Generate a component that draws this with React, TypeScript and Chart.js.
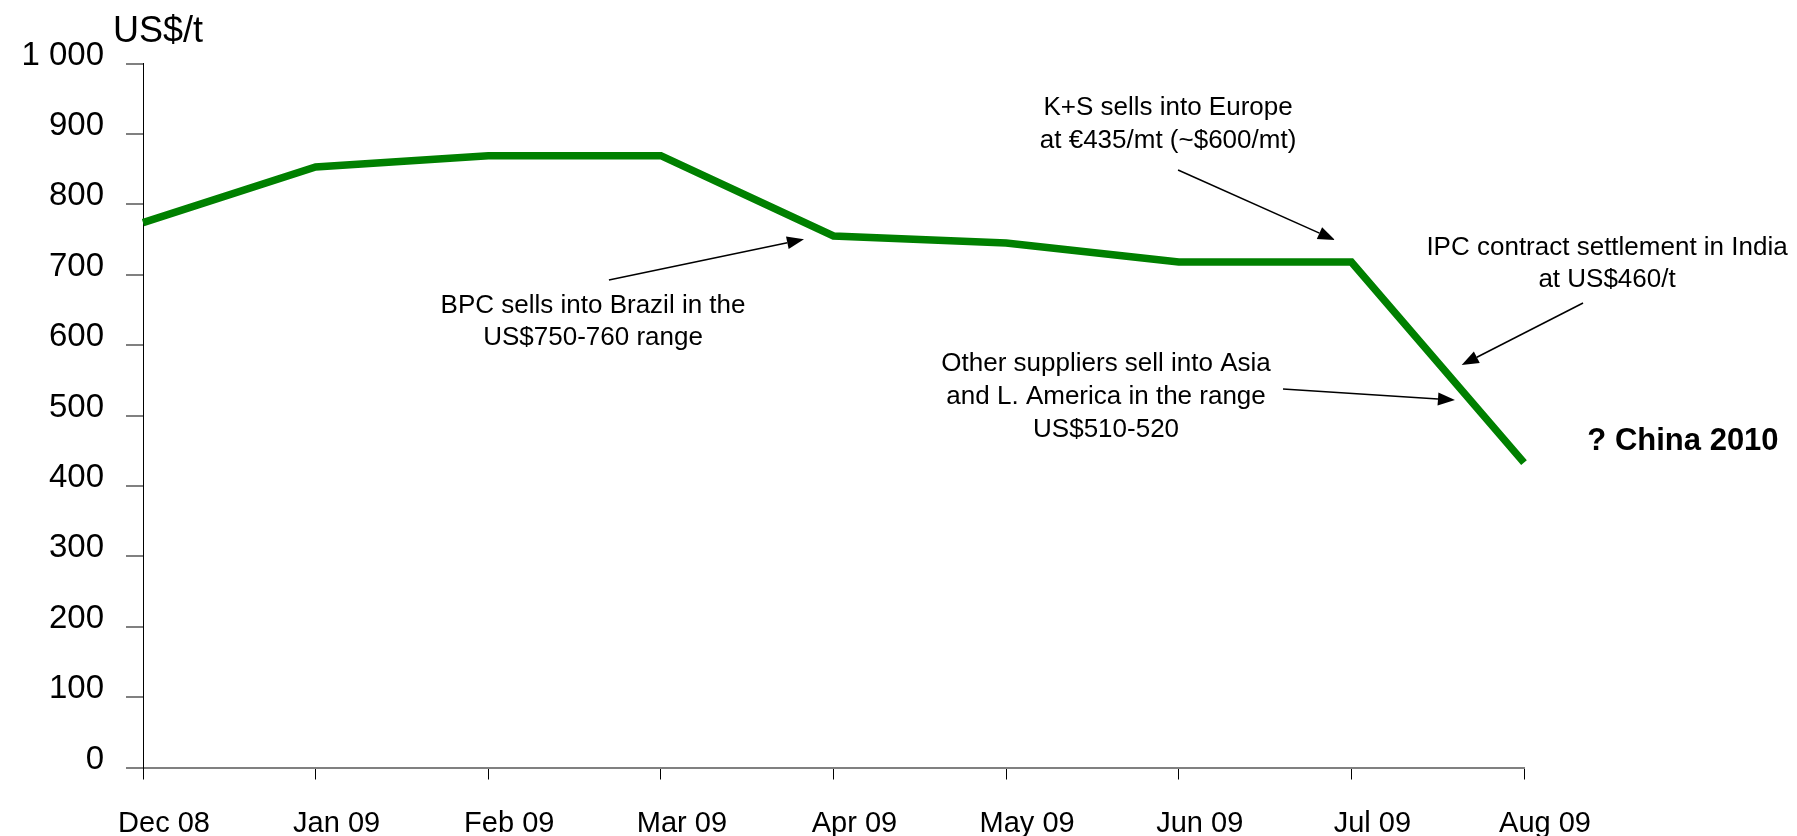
import React, { useEffect, useRef } from "react";
import { Chart, registerables } from "chart.js";

Chart.register(...registerables);

const months = ["Dec 08", "Jan 09", "Feb 09", "Mar 09", "Apr 09", "May 09", "Jun 09", "Jul 09", "Aug 09"];
const prices = [774, 853, 869, 869, 755, 745, 718, 718, 433];
const yTicks = [0, 100, 200, 300, 400, 500, 600, 700, 800, 900, 1000];

const FONT = "'Liberation Sans', Arial, Helvetica, sans-serif";

// annotation texts anchored in data space (category index, value)
const notes = [
  { lines: ["BPC sells into Brazil in the", "US$750-760 range"], i: 2.607, v: 645.6, gap: 32, size: 26, bold: false, align: "center" },
  { lines: ["K+S sells into Europe", "at €435/mt (~$600/mt)"], i: 5.938, v: 926.8, gap: 33, size: 26, bold: false, align: "center" },
  { lines: ["IPC contract settlement in India", "at US$460/t"], i: 8.481, v: 728.0, gap: 32, size: 26, bold: false, align: "center" },
  { lines: ["Other suppliers sell into Asia", "and L. America in the range", "US$510-520"], i: 5.579, v: 563.2, gap: 33, size: 26, bold: false, align: "center" },
  { lines: ["? China 2010"], i: 8.921, v: 451.0, gap: 0, size: 31, bold: true, align: "center" },
  { lines: ["US$/t"], i: -0.174, v: 1030.5, gap: 0, size: 36, bold: false, align: "left" },
];

const arrows = [
  { i0: 2.699, v0: 692.5, i1: 3.829, v1: 750.3 },
  { i0: 5.996, v0: 848.7, i1: 6.905, v1: 749.3 },
  { i0: 8.342, v0: 659.8, i1: 7.639, v1: 571.7 },
  { i0: 6.604, v0: 537.6, i1: 7.6, v1: 522.0 },
];

const annotationPlugin = {
  id: "annotations",
  afterDraw(chart: any) {
    const ctx = chart.ctx as CanvasRenderingContext2D;
    const xs = chart.scales.x;
    const ys = chart.scales.y;
    ctx.save();
    ctx.fillStyle = "#000";
    ctx.textBaseline = "alphabetic";
    for (const n of notes) {
      const px = xs.getPixelForValue(n.i);
      const py = ys.getPixelForValue(n.v);
      ctx.font = `${n.bold ? "bold " : ""}${n.size}px ${FONT}`;
      ctx.textAlign = n.align as CanvasTextAlign;
      n.lines.forEach((t, k) => ctx.fillText(t, px, py + k * n.gap));
    }
    ctx.strokeStyle = "#000";
    ctx.lineWidth = 1.5;
    for (const a of arrows) {
      const x0 = xs.getPixelForValue(a.i0);
      const y0 = ys.getPixelForValue(a.v0);
      const x1 = xs.getPixelForValue(a.i1);
      const y1 = ys.getPixelForValue(a.v1);
      const ang = Math.atan2(y1 - y0, x1 - x0);
      const len = 17;
      const hw = 6.5;
      const bx = x1 - len * Math.cos(ang);
      const by = y1 - len * Math.sin(ang);
      ctx.beginPath();
      ctx.moveTo(x0, y0);
      ctx.lineTo(bx, by);
      ctx.stroke();
      ctx.beginPath();
      ctx.moveTo(x1, y1);
      ctx.lineTo(bx + hw * Math.sin(ang), by - hw * Math.cos(ang));
      ctx.lineTo(bx - hw * Math.sin(ang), by + hw * Math.cos(ang));
      ctx.closePath();
      ctx.fill();
    }
    ctx.restore();
  },
};

export default function App() {
  const ref = useRef<HTMLCanvasElement | null>(null);
  useEffect(() => {
    if (!ref.current) return;
    const chart = new Chart(ref.current, {
      type: "line",
      data: {
        labels: months,
        datasets: [
          {
            data: prices,
            borderColor: "#008000",
            backgroundColor: "#008000",
            borderWidth: 7.5,
            pointRadius: 0,
            tension: 0,
            borderJoinStyle: "miter",
            borderCapStyle: "butt",
            fill: false,
          },
        ],
      },
      options: {
        animation: false,
        responsive: false,
        maintainAspectRatio: false,
        layout: { padding: { left: 0, right: 273, top: 63.5, bottom: 0 } },
        plugins: { legend: { display: false }, tooltip: { enabled: false }, title: { display: false } },
        scales: {
          x: {
            type: "category",
            offset: false,
            afterFit: (s: any) => { s.height = 68.5; },
            grid: { display: true, drawOnChartArea: false, drawTicks: true, tickLength: 12, color: "#000", lineWidth: 1 },
            border: { display: true, color: "#808080", width: 2 },
            ticks: {
              autoSkip: false,
              maxRotation: 0,
              minRotation: 0,
              color: "#000",
              font: { family: FONT, size: 29 },
              labelOffset: 21,
              padding: 27,
            },
          },
          y: {
            min: 0,
            max: 1000,
            afterFit: (s: any) => { s.width = 143; },
            afterBuildTicks: (s: any) => { s.ticks = yTicks.map((v) => ({ value: v })); },
            grid: { display: true, drawOnChartArea: false, drawTicks: true, tickLength: 17, color: "#808080", lineWidth: 2 },
            border: { display: true, color: "#000", width: 1 },
            ticks: {
              color: "#000",
              font: { family: FONT, size: 33 },
              padding: 22,
              labelOffset: -8,
              callback: (v: any) => (Number(v) >= 1000 ? String(v).replace(/(\d)(\d{3})$/, "$1 $2") : String(v)),
            },
          },
        },
      },
      plugins: [annotationPlugin],
    });
    return () => chart.destroy();
  }, []);
  return (
    <div style={{ position: "fixed", left: 0, top: 0, width: 1797, height: 836, background: "#fff" }}>
      <canvas ref={ref} width={1797} height={836} style={{ width: 1797, height: 836 }} />
    </div>
  );
}
